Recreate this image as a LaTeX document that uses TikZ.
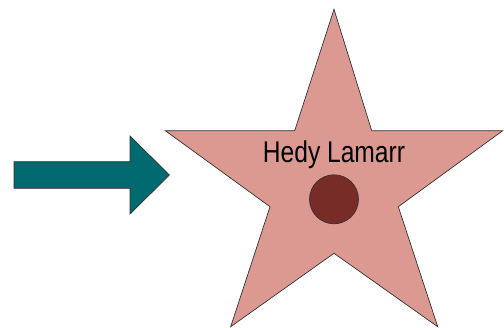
\documentclass[tikz,border=0pt]{standalone}
\usepackage{fontspec}
\setmainfont{Liberation Sans}[FakeStretch=0.82]
\definecolor{starfill}{HTML}{DB9991}
\definecolor{dotfill}{HTML}{772C27}
\definecolor{arrowfill}{HTML}{006A70}
\definecolor{edge}{HTML}{333333}
\begin{document}
\begin{tikzpicture}[x=1pt,y=-1pt,
  shapeline/.style={draw=edge,line width=0.7pt,line join=miter}]
\useasboundingbox (0,0) rectangle (504,328);
% arrow
\fill[arrowfill,shapeline] (14,161.7) -- (130,161.7) -- (130,136) -- (169.5,175) -- (130,214) -- (130,188.3) -- (14,188.3) -- cycle;
% star
\fill[starfill,shapeline] (334,9.3) -- (371.7,130.7) -- (502.7,130.7) -- (398.3,206.7) -- (437.7,326.7) -- (334,253.3) -- (230.7,326.7) -- (270,206.7) -- (165.3,130.7) -- (294.7,130.7) -- cycle;
% dot
\fill[dotfill,shapeline] (334,199.3) circle[radius=24.5pt];
\node (name) at (334,155) {\fontsize{30}{30}\selectfont Hedy Lamarr};
\end{tikzpicture}
\end{document}
